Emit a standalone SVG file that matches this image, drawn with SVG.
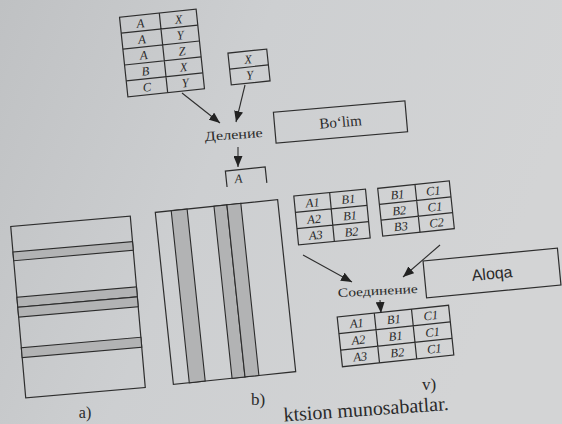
<svg xmlns="http://www.w3.org/2000/svg" width="562" height="424" viewBox="0 0 562 424" font-family="Liberation Serif, serif">
<defs>
<linearGradient id="bg" x1="0" y1="0" x2="1" y2="0.3">
<stop offset="0" stop-color="#bfc1c3"/>
<stop offset="0.45" stop-color="#cdcfd1"/>
<stop offset="1" stop-color="#d3d4d5"/>
</linearGradient>
<marker id="ah" markerWidth="11" markerHeight="9" refX="11" refY="4.5" orient="auto" markerUnits="userSpaceOnUse">
<path d="M0,0 L11,4.5 L0,9 z" fill="#222"/>
</marker>
<style>
.bx{fill:none;stroke:#2e2e2e;stroke-width:1.2}
.ln{fill:none;stroke:#2e2e2e;stroke-width:1.2}
.band{fill:#b2b3b4;stroke:#2b2b2b;stroke-width:1.1}
.cell{font-family:Liberation Serif,serif;font-style:italic;font-size:12.5px;fill:#2a2a2a;text-anchor:middle}
.lbl{font-family:Liberation Serif,serif;fill:#2a2a2a;text-anchor:middle}
.conn{stroke:#2e2e2e;stroke-width:1.1;fill:none;marker-end:url(#ah)}
</style>
</defs>
<rect width="562" height="424" fill="url(#bg)"/>

<g id="table-AXYZ" transform="matrix(0.99452,-0.10453,0.10453,0.99452,162,53)">
<rect class="bx" x="-38.5" y="-40" width="77" height="80"/>
<path class="ln" d="M1.5,-40 V40 M-38.5,-24 H38.5 M-38.5,-8 H38.5 M-38.5,8 H38.5 M-38.5,24 H38.5"/>
<text class="cell" x="-18.5" y="-27.5">A</text><text class="cell" x="20" y="-27.5">X</text>
<text class="cell" x="-18.5" y="-11.5">A</text><text class="cell" x="20" y="-11.5">Y</text>
<text class="cell" x="-18.5" y="4.5">A</text><text class="cell" x="20" y="4.5">Z</text>
<text class="cell" x="-18.5" y="20.5">B</text><text class="cell" x="20" y="20.5">X</text>
<text class="cell" x="-18.5" y="36.5">C</text><text class="cell" x="20" y="36.5">Y</text>
</g>

<g id="table-XY" transform="matrix(0.99452,-0.10453,0.10453,0.99452,249,67)">
<rect class="bx" x="-19.5" y="-16" width="39" height="32"/>
<path class="ln" d="M-19.5,0 H19.5"/>
<text class="cell" x="0" y="-3.5">X</text>
<text class="cell" x="0" y="12.5">Y</text>
</g>

<g id="op-delenie" transform="matrix(0.99756,-0.06976,0.06976,0.99756,234,139)">
<text class="lbl" x="0" y="0" font-size="13.5" textLength="58" lengthAdjust="spacingAndGlyphs">Деление</text>
</g>

<g id="result-A" transform="matrix(0.99452,-0.10453,0.10453,0.99452,246,176)">
<path class="ln" d="M-20,9 V-7 H20 V9"/>
<text class="cell" x="-8" y="6">A</text>
</g>

<g id="bolim" transform="matrix(0.99619,-0.08716,0.08716,0.99619,340.5,122)">
<rect class="bx" x="-66" y="-15.5" width="132" height="31"/>
<text class="lbl" x="0" y="5" font-size="15">Bo‘lim</text>
</g>

<g id="panel-a" transform="matrix(0.99619,-0.08716,0.08716,0.99619,78,307)">
<rect class="bx" x="-60" y="-86" width="120" height="172"/>
<rect class="band" x="-60" y="-60.4" width="120" height="8.7"/>
<rect class="band" x="-60" y="-15" width="120" height="10"/>
<rect class="band" x="-60" y="-5" width="120" height="10"/>
<rect class="band" x="-60" y="35.6" width="120" height="10"/>
</g>

<g id="panel-b" transform="matrix(0.99452,-0.10453,0.10453,0.99452,225.5,292)">
<rect class="bx" x="-61.5" y="-86.5" width="123" height="173"/>
<rect class="band" x="-45.5" y="-86.5" width="16" height="173"/>
<rect class="band" x="-2.5" y="-86.5" width="13" height="173"/>
<rect class="band" x="10.5" y="-86.5" width="14" height="173"/>
</g>

<g id="table-AB" transform="matrix(0.99540,-0.09585,0.09585,0.99540,332,217)">
<rect class="bx" x="-36" y="-24.5" width="72" height="49"/>
<path class="ln" d="M0,-24.5 V24.5 M-36,-8.2 H36 M-36,8.2 H36"/>
<text class="cell" x="-18" y="-12">A1</text><text class="cell" x="18" y="-12">B1</text>
<text class="cell" x="-18" y="4.5">A2</text><text class="cell" x="18" y="4.5">B1</text>
<text class="cell" x="-18" y="20.8">A3</text><text class="cell" x="18" y="20.8">B2</text>
</g>

<g id="table-BC" transform="matrix(0.99452,-0.10453,0.10453,0.99452,416,208.5)">
<rect class="bx" x="-36" y="-24" width="72" height="48"/>
<path class="ln" d="M1.5,-24 V24 M-36,-8 H36 M-36,8 H36"/>
<text class="cell" x="-17" y="-11.5">B1</text><text class="cell" x="19" y="-11.5">C1</text>
<text class="cell" x="-17" y="4.5">B2</text><text class="cell" x="19" y="4.5">C1</text>
<text class="cell" x="-17" y="20.5">B3</text><text class="cell" x="19" y="20.5">C2</text>
</g>

<g id="op-soedinenie" transform="matrix(0.99863,-0.05234,0.05234,0.99863,378,295)">
<text class="lbl" x="0" y="0" font-size="12.5" textLength="80" lengthAdjust="spacingAndGlyphs">Соединение</text>
</g>

<g id="aloqa" transform="matrix(0.99540,-0.09585,0.09585,0.99540,492,273)">
<rect class="bx" x="-67.5" y="-18.5" width="135" height="37"/>
<text x="0" y="6" font-family="Liberation Sans, Arial, sans-serif" font-size="16" fill="#2a2a2a" text-anchor="middle">Aloqa</text>
</g>

<g id="table-ABC" transform="matrix(0.99452,-0.10453,0.10453,0.99452,395.5,336)">
<rect class="bx" x="-56" y="-25" width="112" height="50"/>
<path class="ln" d="M-18.7,-25 V25 M18.7,-25 V25 M-56,-8.3 H56 M-56,8.3 H56"/>
<text class="cell" x="-37.3" y="-12.5">A1</text><text class="cell" x="0" y="-12.5">B1</text><text class="cell" x="37.3" y="-12.5">C1</text>
<text class="cell" x="-37.3" y="4.3">A2</text><text class="cell" x="0" y="4.3">B1</text><text class="cell" x="37.3" y="4.3">C1</text>
<text class="cell" x="-37.3" y="21">A3</text><text class="cell" x="0" y="21">B2</text><text class="cell" x="37.3" y="21">C1</text>
</g>

<g id="connectors">
<line class="conn" x1="182" y1="93" x2="220" y2="123"/>
<line class="conn" x1="245" y1="85" x2="236" y2="122"/>
<line class="conn" x1="238" y1="147" x2="238" y2="167"/>
<line class="conn" x1="303" y1="255" x2="352" y2="282"/>
<line class="conn" x1="440" y1="245" x2="403" y2="277"/>
<line class="conn" x1="380" y1="300" x2="381" y2="313"/>
</g>

<g id="labels">
<text class="lbl" x="85" y="418" font-size="16">a)</text>
<text class="lbl" x="258" y="405" font-size="17">b)</text>
<text class="lbl" x="429" y="390" font-size="17">v)</text>
<g transform="matrix(0.99756,-0.06976,0.06976,0.99756,449,410)">
<text x="0" y="0" font-size="20" fill="#2a2a2a" text-anchor="end">ktsion munosabatlar.</text>
</g>
</g>
</svg>
